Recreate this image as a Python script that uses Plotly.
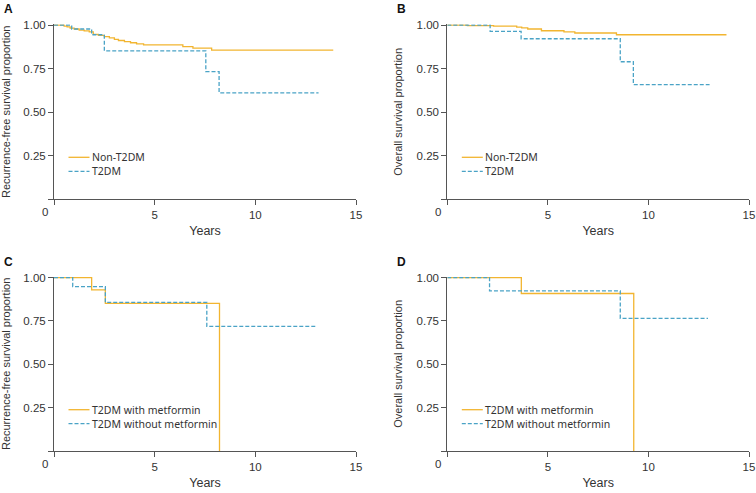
import plotly.graph_objects as go

# ---- Données ----
# A : survie sans récidive, Non-T2DM vs T2DM
a_non_t = [0, 0.5, 0.65, 0.8, 1.0, 1.25, 1.5, 1.75, 1.95, 2.2, 2.5, 2.75, 3.0, 3.2, 3.5, 3.8, 4.1, 4.45, 6.4, 6.9, 7.83, 13.87]
a_non_s = [1.0, 0.995, 0.99, 0.983, 0.978, 0.972, 0.967, 0.962, 0.947, 0.941, 0.934, 0.927, 0.919, 0.912, 0.905, 0.899, 0.893, 0.887, 0.877, 0.868, 0.857, 0.857]
a_t2dm_t = [0, 0.88, 1.87, 2.5, 7.54, 8.2, 13.14]
a_t2dm_s = [1.0, 0.978, 0.945, 0.852, 0.733, 0.611, 0.611]

# B : survie globale, Non-T2DM vs T2DM
b_non_t = [0, 1.0, 2.3, 3.45, 3.7, 4.0, 4.68, 5.8, 6.34, 8.41, 13.88]
b_non_s = [1.0, 0.997, 0.994, 0.989, 0.984, 0.978, 0.968, 0.961, 0.955, 0.945, 0.945]
b_t2dm_t = [0, 2.13, 3.67, 8.6, 9.25, 13.04]
b_t2dm_s = [1.0, 0.964, 0.922, 0.79, 0.658, 0.658]

# C : survie sans récidive, T2DM avec / sans metformine
c_met_t = [0, 1.87, 2.55, 8.22]
c_met_s = [1.0, 0.929, 0.851, 0.0]
c_nomet_t = [0, 0.93, 2.55, 7.59, 13.06]
c_nomet_s = [1.0, 0.948, 0.857, 0.719, 0.719]

# D : survie globale, T2DM avec / sans metformine
d_met_t = [0, 3.68, 9.27]
d_met_s = [1.0, 0.908, 0.0]
d_nomet_t = [0, 2.1, 8.6, 12.96]
d_nomet_s = [1.0, 0.923, 0.765, 0.765]

x_ticks = [0, 5, 10, 15]
x_ticktext = ['', '5', '10', '15']
y_ticks = [0, 0.25, 0.5, 0.75, 1.0]
y_ticktext = ['', '0.25', '0.50', '0.75', '1.00']

W, H = 756, 493
ORANGE = '#F2B530'
BLUE = '#4AA3C6'
AXIS = '#555555'
TXT = '#333333'
STYLES = [dict(color=ORANGE, width=1.3, dash='solid'),
          dict(color=BLUE, width=1.3, dash='4px,2px')]

panels = [
    # lettre, suffixe axe, titre y, series
    ('A', '', 'Recurrence-free survival proportion',
     [(a_non_t, a_non_s, 'Non-T2DM'), (a_t2dm_t, a_t2dm_s, 'T2DM')]),
    ('B', '2', 'Overall survival proportion',
     [(b_non_t, b_non_s, 'Non-T2DM'), (b_t2dm_t, b_t2dm_s, 'T2DM')]),
    ('C', '3', 'Recurrence-free survival proportion',
     [(c_met_t, c_met_s, 'T2DM with metformin'), (c_nomet_t, c_nomet_s, 'T2DM without metformin')]),
    ('D', '4', 'Overall survival proportion',
     [(d_met_t, d_met_s, 'T2DM with metformin'), (d_nomet_t, d_nomet_s, 'T2DM without metformin')]),
]

# zones de tracé en pixels (gauche, droite, haut, bas)
boxes = [(54, 356, 24.3, 199.3), (447.3, 749, 24.3, 199.3),
         (54, 356, 276.7, 451), (447.3, 749, 276.7, 451)]

fig = go.Figure()
layout = dict(width=W, height=H, margin=dict(l=0, r=0, t=0, b=0),
              paper_bgcolor='white', plot_bgcolor='white', showlegend=False,
              font=dict(family='Liberation Sans, Arial', color=TXT))
annotations = []
shapes = []

for (lettre, suf, ytitre, series), (x0, x1, y0, y1) in zip(panels, boxes):
    xa, ya = 'xaxis' + suf, 'yaxis' + suf
    for k, (t, s, nom) in enumerate(series):
        fig.add_trace(go.Scatter(
            x=t, y=s, name=nom, mode='lines', line_shape='hv', line=STYLES[k],
            xaxis='x' + suf, yaxis='y' + suf, hoverinfo='skip'))
        # légende dessinée à la main (échantillon court comme l'original)
        yl = 1 - (y0 + 133 + 14 * k) / H
        shapes.append(dict(type='line', xref='paper', yref='paper',
                           x0=(x0 + 14.5) / W, x1=(x0 + 35.5) / W, y0=yl, y1=yl, line=STYLES[k]))
        annotations.append(dict(text=nom, xref='paper', yref='paper', x=(x0 + 36) / W, y=yl,
                                xanchor='left', yanchor='middle', showarrow=False,
                                font=dict(family='Noto Sans', size=10.5, color=TXT)))
    common = dict(showline=True, linecolor=AXIS, linewidth=1, ticks='outside',
                  ticklen=5, tickcolor=AXIS, showgrid=False, zeroline=False,
                  automargin=False, tickfont=dict(size=11.5, color=TXT))
    layout[xa] = dict(common, domain=[x0 / W, x1 / W], range=[0, 15],
                      tickvals=x_ticks, ticktext=x_ticktext, anchor='y' + suf,
                      title=dict(text='Years', font=dict(size=12.5), standoff=6))
    layout[ya] = dict(common, domain=[1 - y1 / H, 1 - y0 / H], range=[0, 1.005],
                      tickvals=y_ticks, ticktext=y_ticktext, anchor='x' + suf,
                      title=dict(text=ytitre, font=dict(size=11), standoff=11))
    # lettre du panneau
    annotations.append(dict(text='<b>' + lettre + '</b>', xref='paper', yref='paper',
                            x=(x0 - 52) / W, y=1 - (y0 - 15) / H, xanchor='left', yanchor='middle',
                            showarrow=False, font=dict(size=12, color='#111111')))
    # "0" commun au coin des axes
    annotations.append(dict(text='0', xref='x' + suf, yref='y' + suf, x=0, y=0,
                            xshift=-9, yshift=-13, showarrow=False,
                            font=dict(size=11.5, color=TXT)))

layout['annotations'] = annotations
layout['shapes'] = shapes
fig.update_layout(**layout)
# la page HTML a une marge de 8 px par défaut : on la retire
fig.write_html('out.html', config={'displayModeBar': False},
               post_script="document.body.style.margin='0';")
